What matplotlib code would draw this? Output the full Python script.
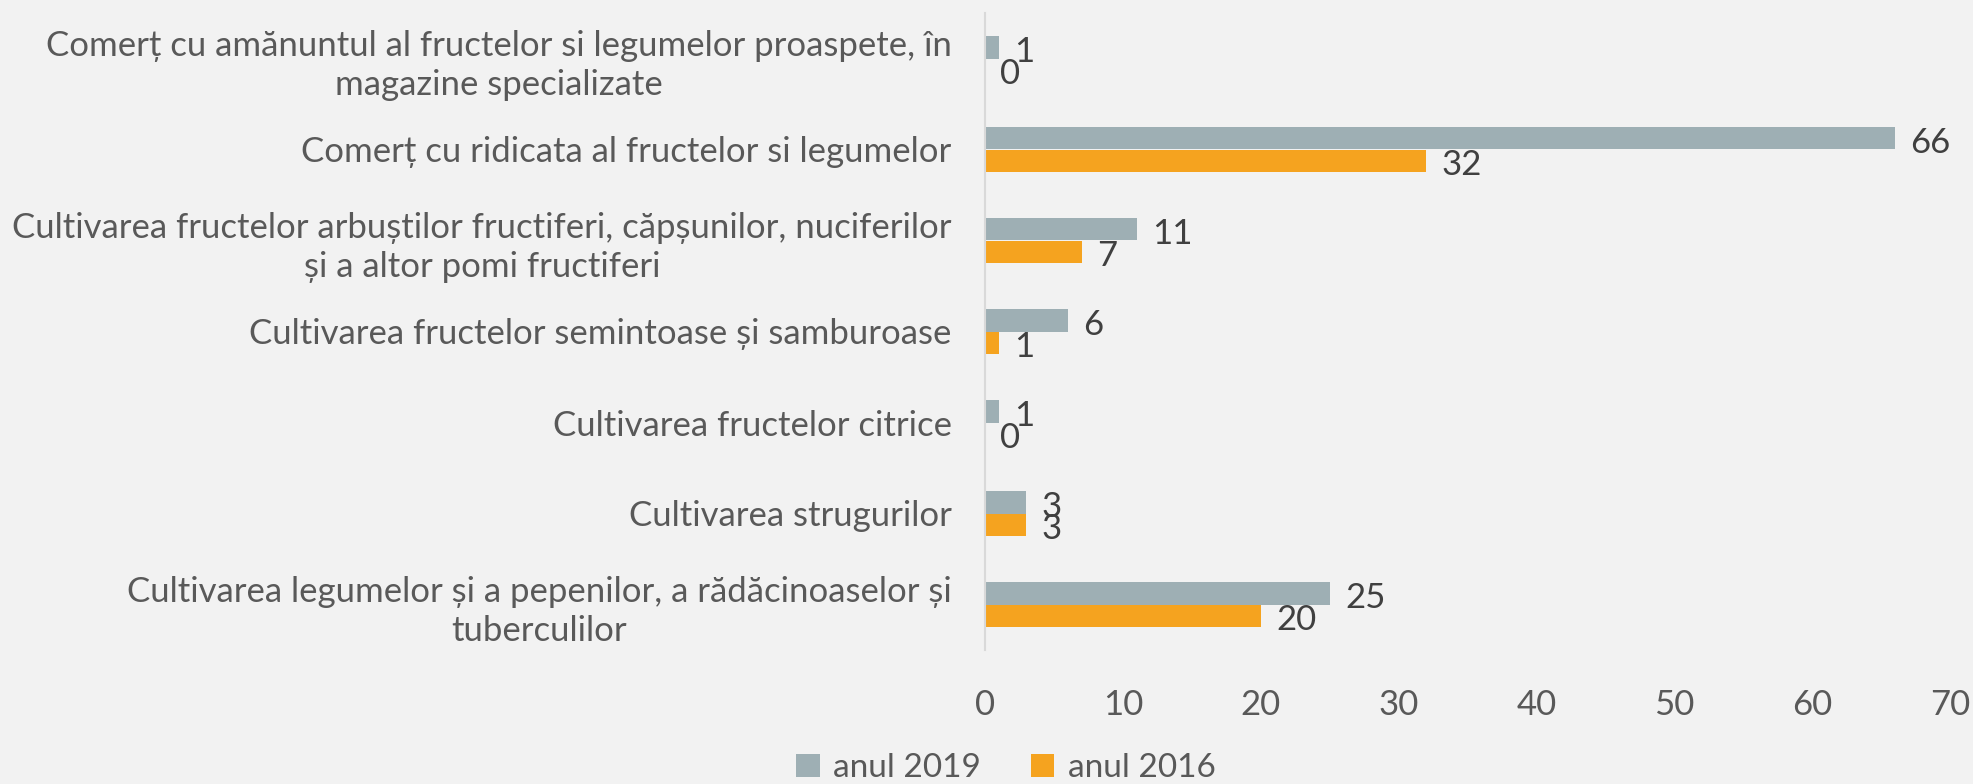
import matplotlib
matplotlib.use("Agg")
import matplotlib.pyplot as plt
import numpy as np

plt.rcParams['font.family'] = ['Lato', 'DejaVu Sans']

categories = [
    "Comerț cu amănuntul al fructelor si legumelor proaspete, în\nmagazine specializate",
    "Comerț cu ridicata al fructelor si legumelor",
    "Cultivarea fructelor arbuștilor fructiferi, căpșunilor, nuciferilor\nși a altor pomi fructiferi",
    "Cultivarea fructelor semintoase și samburoase",
    "Cultivarea fructelor citrice",
    "Cultivarea strugurilor",
    "Cultivarea legumelor și a pepenilor, a rădăcinoaselor și\ntuberculilor",
]
values_2019 = [1, 66, 11, 6, 1, 3, 25]
values_2016 = [0, 32, 7, 1, 0, 3, 20]
series_names = ["anul 2019", "anul 2016"]
xticks = [0, 10, 20, 30, 40, 50, 60, 70]

BG = "#F2F2F2"
C2019 = "#9EAFB4"
C2016 = "#F5A31F"
FS = 25

fig = plt.figure(figsize=(19.73, 7.84), dpi=100, facecolor=BG)
ax = fig.add_axes([985/1973, 1-650/784, (1950-985)/1973, (650-13)/784])
ax.set_facecolor(BG)

y = np.arange(len(categories))
h = 0.245
b1 = ax.barh(y - h/2, values_2019, height=h, color=C2019, label=series_names[0])
b2 = ax.barh(y + h/2, values_2016, height=h, color=C2016, label=series_names[1])

for bars, vals in ((b1, values_2019), (b2, values_2016)):
    for rect, v in zip(bars, vals):
        ax.annotate(str(v), (v, rect.get_y() + rect.get_height()/2),
                    xytext=(11, -3), textcoords='offset points',
                    va='center', ha='left', fontsize=FS, color='#404040')

ax.set_ylim(len(categories) - 0.5, -0.5)
ax.set_xlim(0, 70)
ax.set_xticks(xticks)
ax.set_yticks(y)
ax.set_yticklabels(categories, multialignment='center', linespacing=1.3)
ax.tick_params(axis='both', length=0, labelsize=FS, colors='#595959')
ax.tick_params(axis='y', pad=24)
ax.tick_params(axis='x', pad=28)
for s in ['top', 'right', 'bottom']:
    ax.spines[s].set_visible(False)
ax.spines['left'].set_color('#D9D9D9')
ax.spines['left'].set_linewidth(1.5)

leg = fig.legend(handles=[b1, b2], loc='center', bbox_to_anchor=(1006/1973, 1-768/784),
                 ncol=2, frameon=False, fontsize=24, handlelength=0.7, handleheight=0.7,
                 handletextpad=0.4, columnspacing=1.5, labelcolor='#595959')

fig.savefig("out.png", dpi=100, facecolor=BG)
